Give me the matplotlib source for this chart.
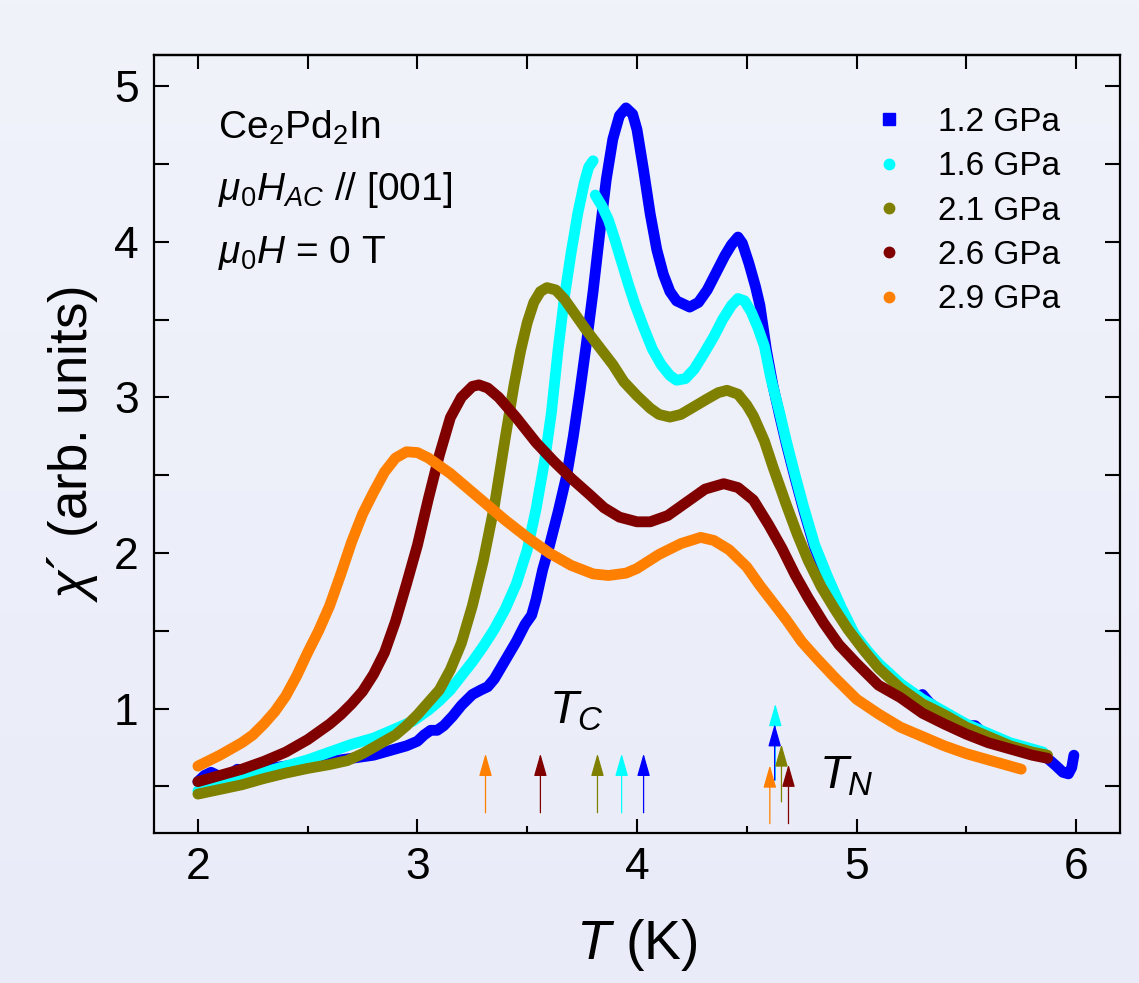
import numpy as np
import matplotlib
matplotlib.use("Agg")
import matplotlib.pyplot as plt
from matplotlib.lines import Line2D

plt.rcParams['font.family'] = ['Liberation Sans', 'DejaVu Sans']
plt.rcParams['mathtext.fontset'] = 'custom'
plt.rcParams['mathtext.rm'] = 'Liberation Sans'
plt.rcParams['mathtext.it'] = 'Liberation Sans:italic'
plt.rcParams['mathtext.bf'] = 'Liberation Sans:bold'

# ---- data: chi' vs T for each pressure ----
labels = ['1.2 GPa', '1.6 GPa', '2.1 GPa', '2.6 GPa', '2.9 GPa']
colors = ['#0000FF', '#00FFFF', '#808000', '#800000', '#FF8000']
markers = ['s', 'o', 'o', 'o', 'o']

T_12 = [2.00, 2.03, 2.06, 2.09, 2.12, 2.15, 2.18, 2.21, 2.30, 2.40, 2.50, 2.60, 2.70,
        2.80, 2.90, 2.95, 3.00, 3.03, 3.06, 3.09, 3.12, 3.16, 3.20, 3.25, 3.29, 3.32,
        3.35, 3.40, 3.45, 3.49, 3.52, 3.54, 3.57, 3.60, 3.64, 3.68, 3.71, 3.74, 3.77,
        3.80, 3.83, 3.86, 3.89, 3.92, 3.95, 3.98, 4.00, 4.03, 4.06, 4.09, 4.12, 4.15,
        4.18, 4.24, 4.28, 4.32, 4.36, 4.40, 4.43, 4.46, 4.48, 4.51, 4.54, 4.56, 4.59,
        4.62, 4.65, 4.68, 4.72, 4.76, 4.81, 4.87, 4.93, 4.99, 5.05, 5.10, 5.20, 5.27,
        5.30, 5.33, 5.40, 5.50, 5.54, 5.57, 5.62, 5.70, 5.80, 5.87, 5.91, 5.94, 5.965,
        5.98, 5.99]
X_12 = [0.53, 0.57, 0.59, 0.57, 0.56, 0.58, 0.61, 0.60, 0.61, 0.63, 0.64, 0.66, 0.68,
        0.70, 0.74, 0.76, 0.79, 0.83, 0.86, 0.86, 0.89, 0.95, 1.02, 1.09, 1.12, 1.14,
        1.19, 1.31, 1.43, 1.54, 1.60, 1.70, 1.89, 2.04, 2.26, 2.50, 2.75, 3.04, 3.35,
        3.68, 4.05, 4.40, 4.66, 4.81, 4.86, 4.82, 4.72, 4.46, 4.18, 3.95, 3.79, 3.68,
        3.62, 3.58, 3.61, 3.69, 3.80, 3.91, 3.98, 4.03, 3.99, 3.86, 3.71, 3.59, 3.30,
        3.07, 2.88, 2.70, 2.48, 2.27, 2.03, 1.82, 1.63, 1.46, 1.35, 1.27, 1.14, 1.07,
        1.09, 1.04, 0.96, 0.89, 0.89, 0.85, 0.81, 0.77, 0.72, 0.68, 0.63, 0.59, 0.58,
        0.62, 0.70]

# 1.6 GPa: two sweeps with a jump near 3.8 K
T_16 = [2.00, 2.10, 2.20, 2.30, 2.40, 2.50, 2.60, 2.70, 2.80, 2.90, 2.98, 3.05, 3.10,
        3.15, 3.20, 3.25, 3.30, 3.35, 3.40, 3.45, 3.50, 3.54, 3.58, 3.61, 3.64, 3.67,
        3.70, 3.73, 3.76, 3.78, 3.80, np.nan,
        3.81, 3.84, 3.87, 3.90, 3.93, 3.96, 3.99, 4.03, 4.07, 4.11, 4.15, 4.18, 4.22,
        4.26, 4.30, 4.35, 4.39, 4.43, 4.46, 4.49, 4.52, 4.55, 4.58, 4.61, 4.65, 4.68,
        4.72, 4.76, 4.81, 4.87, 4.93, 4.99, 5.05, 5.10, 5.20, 5.30, 5.40, 5.50, 5.60,
        5.70, 5.85]
X_16 = [0.47, 0.51, 0.55, 0.59, 0.63, 0.67, 0.72, 0.77, 0.81, 0.87, 0.92, 0.99, 1.05,
        1.12, 1.21, 1.30, 1.40, 1.51, 1.64, 1.80, 2.02, 2.28, 2.60, 2.90, 3.30, 3.65,
        3.93, 4.18, 4.38, 4.48, 4.52, np.nan,
        4.30, 4.23, 4.14, 4.01, 3.87, 3.73, 3.60, 3.45, 3.31, 3.21, 3.14, 3.11, 3.12,
        3.18, 3.27, 3.39, 3.50, 3.59, 3.635, 3.62, 3.55, 3.45, 3.33, 3.12, 2.90, 2.72,
        2.50, 2.29, 2.05, 1.84, 1.65, 1.48, 1.37, 1.29, 1.16, 1.06, 0.98, 0.90, 0.84,
        0.78, 0.72]

T_21 = [2.00, 2.10, 2.20, 2.30, 2.40, 2.50, 2.60, 2.68, 2.75, 2.80, 2.85, 2.90, 2.95,
        3.00, 3.05, 3.10, 3.15, 3.20, 3.25, 3.30, 3.35, 3.40, 3.44, 3.47, 3.50, 3.53,
        3.56, 3.59, 3.63, 3.67, 3.72, 3.77, 3.83, 3.89, 3.94, 4.00, 4.06, 4.10, 4.15,
        4.20, 4.26, 4.32, 4.37, 4.41, 4.46, 4.50, 4.53, 4.58, 4.62, 4.68, 4.73, 4.78,
        4.84, 4.90, 4.96, 5.03, 5.10, 5.20, 5.30, 5.40, 5.50, 5.60, 5.70, 5.80, 5.87]
X_21 = [0.45, 0.48, 0.51, 0.55, 0.585, 0.615, 0.64, 0.665, 0.71, 0.75, 0.79, 0.83, 0.89,
        0.96, 1.04, 1.12, 1.25, 1.42, 1.66, 1.95, 2.30, 2.74, 3.08, 3.30, 3.48, 3.61,
        3.68, 3.705, 3.69, 3.63, 3.53, 3.43, 3.32, 3.21, 3.10, 3.01, 2.93, 2.89, 2.873,
        2.89, 2.94, 2.99, 3.03, 3.045, 3.02, 2.95, 2.88, 2.72, 2.55, 2.31, 2.12, 1.95,
        1.78, 1.64, 1.51, 1.38, 1.26, 1.13, 1.03, 0.96, 0.88, 0.82, 0.76, 0.72, 0.70]

T_26 = [2.00, 2.10, 2.20, 2.30, 2.40, 2.50, 2.55, 2.60, 2.65, 2.70, 2.75, 2.80, 2.85,
        2.90, 2.95, 3.00, 3.05, 3.10, 3.15, 3.20, 3.25, 3.28, 3.32, 3.37, 3.45, 3.54,
        3.62, 3.70, 3.78, 3.85, 3.92, 4.00, 4.06, 4.14, 4.23, 4.31, 4.395, 4.46, 4.53,
        4.60, 4.66, 4.72, 4.78, 4.85, 4.92, 5.00, 5.10, 5.20, 5.30, 5.40, 5.50, 5.60,
        5.70, 5.80, 5.87]
X_26 = [0.53, 0.57, 0.61, 0.66, 0.72, 0.80, 0.85, 0.90, 0.96, 1.03, 1.11, 1.22, 1.36,
        1.56, 1.80, 2.05, 2.35, 2.63, 2.87, 3.00, 3.07, 3.08, 3.06, 3.00, 2.87, 2.71,
        2.59, 2.48, 2.38, 2.29, 2.23, 2.20, 2.20, 2.24, 2.33, 2.41, 2.445, 2.42, 2.34,
        2.18, 2.03, 1.86, 1.71, 1.55, 1.41, 1.29, 1.15, 1.07, 0.97, 0.90, 0.835, 0.78,
        0.74, 0.70, 0.68]

T_29 = [2.00, 2.05, 2.10, 2.15, 2.20, 2.25, 2.30, 2.35, 2.40, 2.45, 2.50, 2.55, 2.60,
        2.65, 2.70, 2.75, 2.80, 2.85, 2.90, 2.95, 3.00, 3.05, 3.10, 3.15, 3.20, 3.30,
        3.40, 3.50, 3.60, 3.70, 3.80, 3.87, 3.95, 4.00, 4.10, 4.20, 4.29, 4.35, 4.42,
        4.50, 4.56, 4.62, 4.68, 4.75, 4.82, 4.90, 5.00, 5.10, 5.20, 5.30, 5.40, 5.50,
        5.60, 5.70, 5.75]
X_29 = [0.63, 0.665, 0.70, 0.74, 0.78, 0.83, 0.90, 0.98, 1.08, 1.21, 1.36, 1.50, 1.66,
        1.86, 2.07, 2.25, 2.39, 2.52, 2.61, 2.65, 2.645, 2.61, 2.56, 2.51, 2.45, 2.33,
        2.21, 2.10, 2.00, 1.92, 1.865, 1.855, 1.87, 1.90, 1.99, 2.06, 2.10, 2.08, 2.02,
        1.91, 1.79, 1.68, 1.57, 1.43, 1.32, 1.20, 1.06, 0.965, 0.88, 0.82, 0.76, 0.71,
        0.67, 0.63, 0.61]

temps = [T_12, T_16, T_21, T_26, T_29]
chis = [X_12, X_16, X_21, X_26, X_29]

# transition temperatures marked by arrows
Tc = [4.03, 3.93, 3.82, 3.56, 3.31]
TN = [4.627, 4.63, 4.658, 4.69, 4.605]

# arrow extents (tail, tip) in chi' units
tc_span = [(0.33, 0.71)] * 5
tn_span = [(0.54, 0.90), (0.54, 1.03), (0.40, 0.77), (0.26, 0.64), (0.26, 0.635)]

# ---- figure ----
W, H = 1139, 983
fig = plt.figure(figsize=(W / 100, H / 100), dpi=100)

# soft lavender background
bg = fig.add_axes([0, 0, 1, 1], zorder=-10)
grad = np.linspace(0, 1, 256)[:, None]
top_c = np.array([241, 243, 251]) / 255
bot_c = np.array([233, 236, 248]) / 255
img = top_c[None, None, :] * (1 - grad[:, :, None]) + bot_c[None, None, :] * grad[:, :, None]
bg.imshow(img, aspect='auto', extent=[0, 1, 0, 1])
bg.set_axis_off()

ax = fig.add_axes([154 / W, 150 / H, 966 / W, 778 / H])
ax.set_facecolor('none')

for T, X, c in zip(temps, chis, colors):
    ax.plot(T, X, color=c, lw=7.8, solid_capstyle='round', solid_joinstyle='round')

# arrows: Tc and TN
arrow_style = '-|>,head_length=0.7,head_width=0.2'
for i in range(5):
    t0, t1 = tc_span[i]
    ax.annotate('', xy=(Tc[i], t1), xytext=(Tc[i], t0),
                arrowprops=dict(arrowstyle=arrow_style, mutation_scale=20,
                                color=colors[i], lw=0.9, shrinkA=0, shrinkB=0))
for i in [1, 0, 2, 3, 4]:
    t0, t1 = tn_span[i]
    ax.annotate('', xy=(TN[i], t1), xytext=(TN[i], t0),
                arrowprops=dict(arrowstyle=arrow_style, mutation_scale=20,
                                color=colors[i], lw=0.9, shrinkA=0, shrinkB=0))

ax.text(3.60, 0.904, r'$T_C$', fontsize=34, ha='left', va='baseline')
ax.text(4.83, 0.486, r'$T_N$', fontsize=34, ha='left', va='baseline')

ax.text(2.091, 4.659, r'$\mathrm{Ce_2Pd_2In}$', fontsize=28, ha='left', va='baseline')
ax.text(2.091, 4.267, r'$\mu_{\mathit{0}}H_{AC}$ // [001]', fontsize=28, ha='left', va='baseline')
ax.text(2.091, 3.862, r'$\mu_{\mathit{0}}H$ = 0 T', fontsize=28, ha='left', va='baseline')

ax.set_xlim(1.8, 6.2)
ax.set_ylim(0.2, 5.2)
ax.set_xticks([2, 3, 4, 5, 6])
ax.set_xticks([2.5, 3.5, 4.5, 5.5], minor=True)
ax.set_yticks([1, 2, 3, 4, 5])
ax.set_yticks([0.5, 1.5, 2.5, 3.5, 4.5], minor=True)

for s in ax.spines.values():
    s.set_linewidth(1.6)
ax.tick_params(which='both', direction='in', width=1.5, top=False, right=True)
ax.tick_params(axis='x', which='major', length=10, labelsize=32, pad=10)
ax.tick_params(axis='x', which='minor', length=5)
ax.tick_params(axis='y', which='both', length=11, labelsize=32, pad=11)

sec = ax.secondary_xaxis('top')
sec.set_xticks([2, 3, 4, 5, 6])
sec.set_xticks([2.5, 3.5, 4.5, 5.5], minor=True)
sec.tick_params(which='both', direction='in', length=10, width=1.5, labeltop=False)
sec.spines['top'].set_linewidth(1.6)

ax.set_xlabel(r'$T$ (K)', fontsize=40)
ax.set_ylabel(r'$\chi$´ (arb. units)', fontsize=38)
ax.xaxis.set_label_coords(0.5, -0.108)
ax.yaxis.set_label_coords(-0.056, 0.5)

handles = [Line2D([], [], marker=m, linestyle='none', color=c,
                  markersize=(8.5 if m == 's' else 7.5))
           for m, c in zip(markers, colors)]
ax.legend(handles, labels, loc='upper left', bbox_to_anchor=(0.744, 0.933),
          frameon=False, fontsize=24, handlelength=1.0, handletextpad=0.95,
          labelspacing=0.40, borderpad=0, borderaxespad=0)

fig.savefig('out.png', dpi=100)
